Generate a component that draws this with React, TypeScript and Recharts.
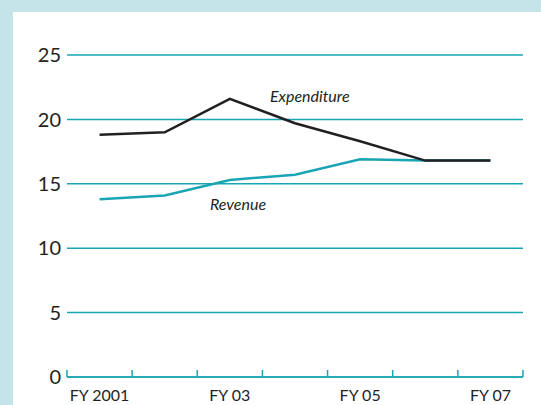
import React from "react";
import { LineChart, Line, XAxis, YAxis, CartesianGrid, ReferenceDot } from "recharts";

const years = ["FY 2001", "FY 02", "FY 03", "FY 04", "FY 05", "FY 06", "FY 07"];
const labelledYears = ["FY 2001", "FY 03", "FY 05", "FY 07"];
const expenditure = [18.8, 19.0, 21.6, 19.7, 18.3, 16.8, 16.8];
const revenue = [13.8, 14.1, 15.3, 15.7, 16.9, 16.8, 16.8];
const yTicks = [0, 5, 10, 15, 20, 25];

// where the two series names sit, in data units (x = year index, y = value)
const expenditureNote = { x: 2.63, y: 21.3, text: "Expenditure" };
const revenueNote = { x: 1.71, y: 12.9, text: "Revenue" };

const TEAL = "#1aa5b4";
const INK = "#231f20";
const FONT = "Lato, 'Open Sans', sans-serif";

const data = years.map((fy, i) => ({
  idx: i,
  fy,
  expenditure: expenditure[i],
  revenue: revenue[i],
}));

// tick marks sit on the band edges, labels in the band middles
const edgeTicks = years.map((_, i) => i - 0.5).concat([years.length - 0.5]);
const labelTicks = years
  .map((fy, i) => (labelledYears.includes(fy) ? i : null))
  .filter((v) => v !== null) as number[];
const xTicks = [...edgeTicks, ...labelTicks].sort((a, b) => a - b);

const XTick = (props: any) => {
  const { x, y, payload } = props;
  const v = payload.value;
  if (Number.isInteger(v)) {
    return (
      <text x={x} y={y + 24} textAnchor="middle" fontSize={16} fontFamily={FONT} fill={INK}>
        {years[v]}
      </text>
    );
  }
  return <line x1={x} x2={x} y1={y} y2={y - 7} stroke={TEAL} strokeWidth={1.5} />;
};

const noteLabel = (text: string) => (props: any) => {
  const { viewBox } = props;
  return (
    <text
      x={viewBox.x}
      y={viewBox.y}
      fontSize={16}
      fontStyle="italic"
      fontFamily={FONT}
      fill={INK}
    >
      {text}
    </text>
  );
};

export default function App() {
  return (
    <div style={{ position: "absolute", left: 0, top: 0, width: 541, height: 405, background: "#c5e4ea" }}>
      <div style={{ position: "absolute", left: 13, top: 12, right: 0, bottom: 0, background: "#ffffff" }} />
      <div style={{ position: "absolute", left: 0, top: 0 }}>
        <LineChart width={541} height={405} data={data} margin={{ top: 55, right: 18, bottom: 1, left: 0 }}>
          <CartesianGrid vertical={false} stroke={TEAL} strokeWidth={1.5} />
          <XAxis
            dataKey="idx"
            type="number"
            domain={[-0.5, 6.5]}
            ticks={xTicks}
            interval={0}
            height={27}
            tickSize={0}
            tickMargin={0}
            tickLine={false}
            axisLine={{ stroke: TEAL, strokeWidth: 1.5 }}
            tick={<XTick />}
          />
          <YAxis
            domain={[0, 25]}
            ticks={yTicks}
            width={67}
            axisLine={false}
            tickLine={false}
            tickSize={0}
            tickMargin={6}
            tick={{ fontSize: 20, fontFamily: FONT, fill: INK }}
          />
          <Line
            dataKey="revenue"
            stroke={TEAL}
            strokeWidth={2.5}
            dot={false}
            isAnimationActive={false}
          />
          <Line
            dataKey="expenditure"
            stroke={INK}
            strokeWidth={2.5}
            dot={false}
            isAnimationActive={false}
          />
          <ReferenceDot
            x={expenditureNote.x}
            y={expenditureNote.y}
            r={1}
            fill="none"
            stroke="none"
            label={{ content: noteLabel(expenditureNote.text) }}
          />
          <ReferenceDot
            x={revenueNote.x}
            y={revenueNote.y}
            r={1}
            fill="none"
            stroke="none"
            label={{ content: noteLabel(revenueNote.text) }}
          />
        </LineChart>
      </div>
    </div>
  );
}
